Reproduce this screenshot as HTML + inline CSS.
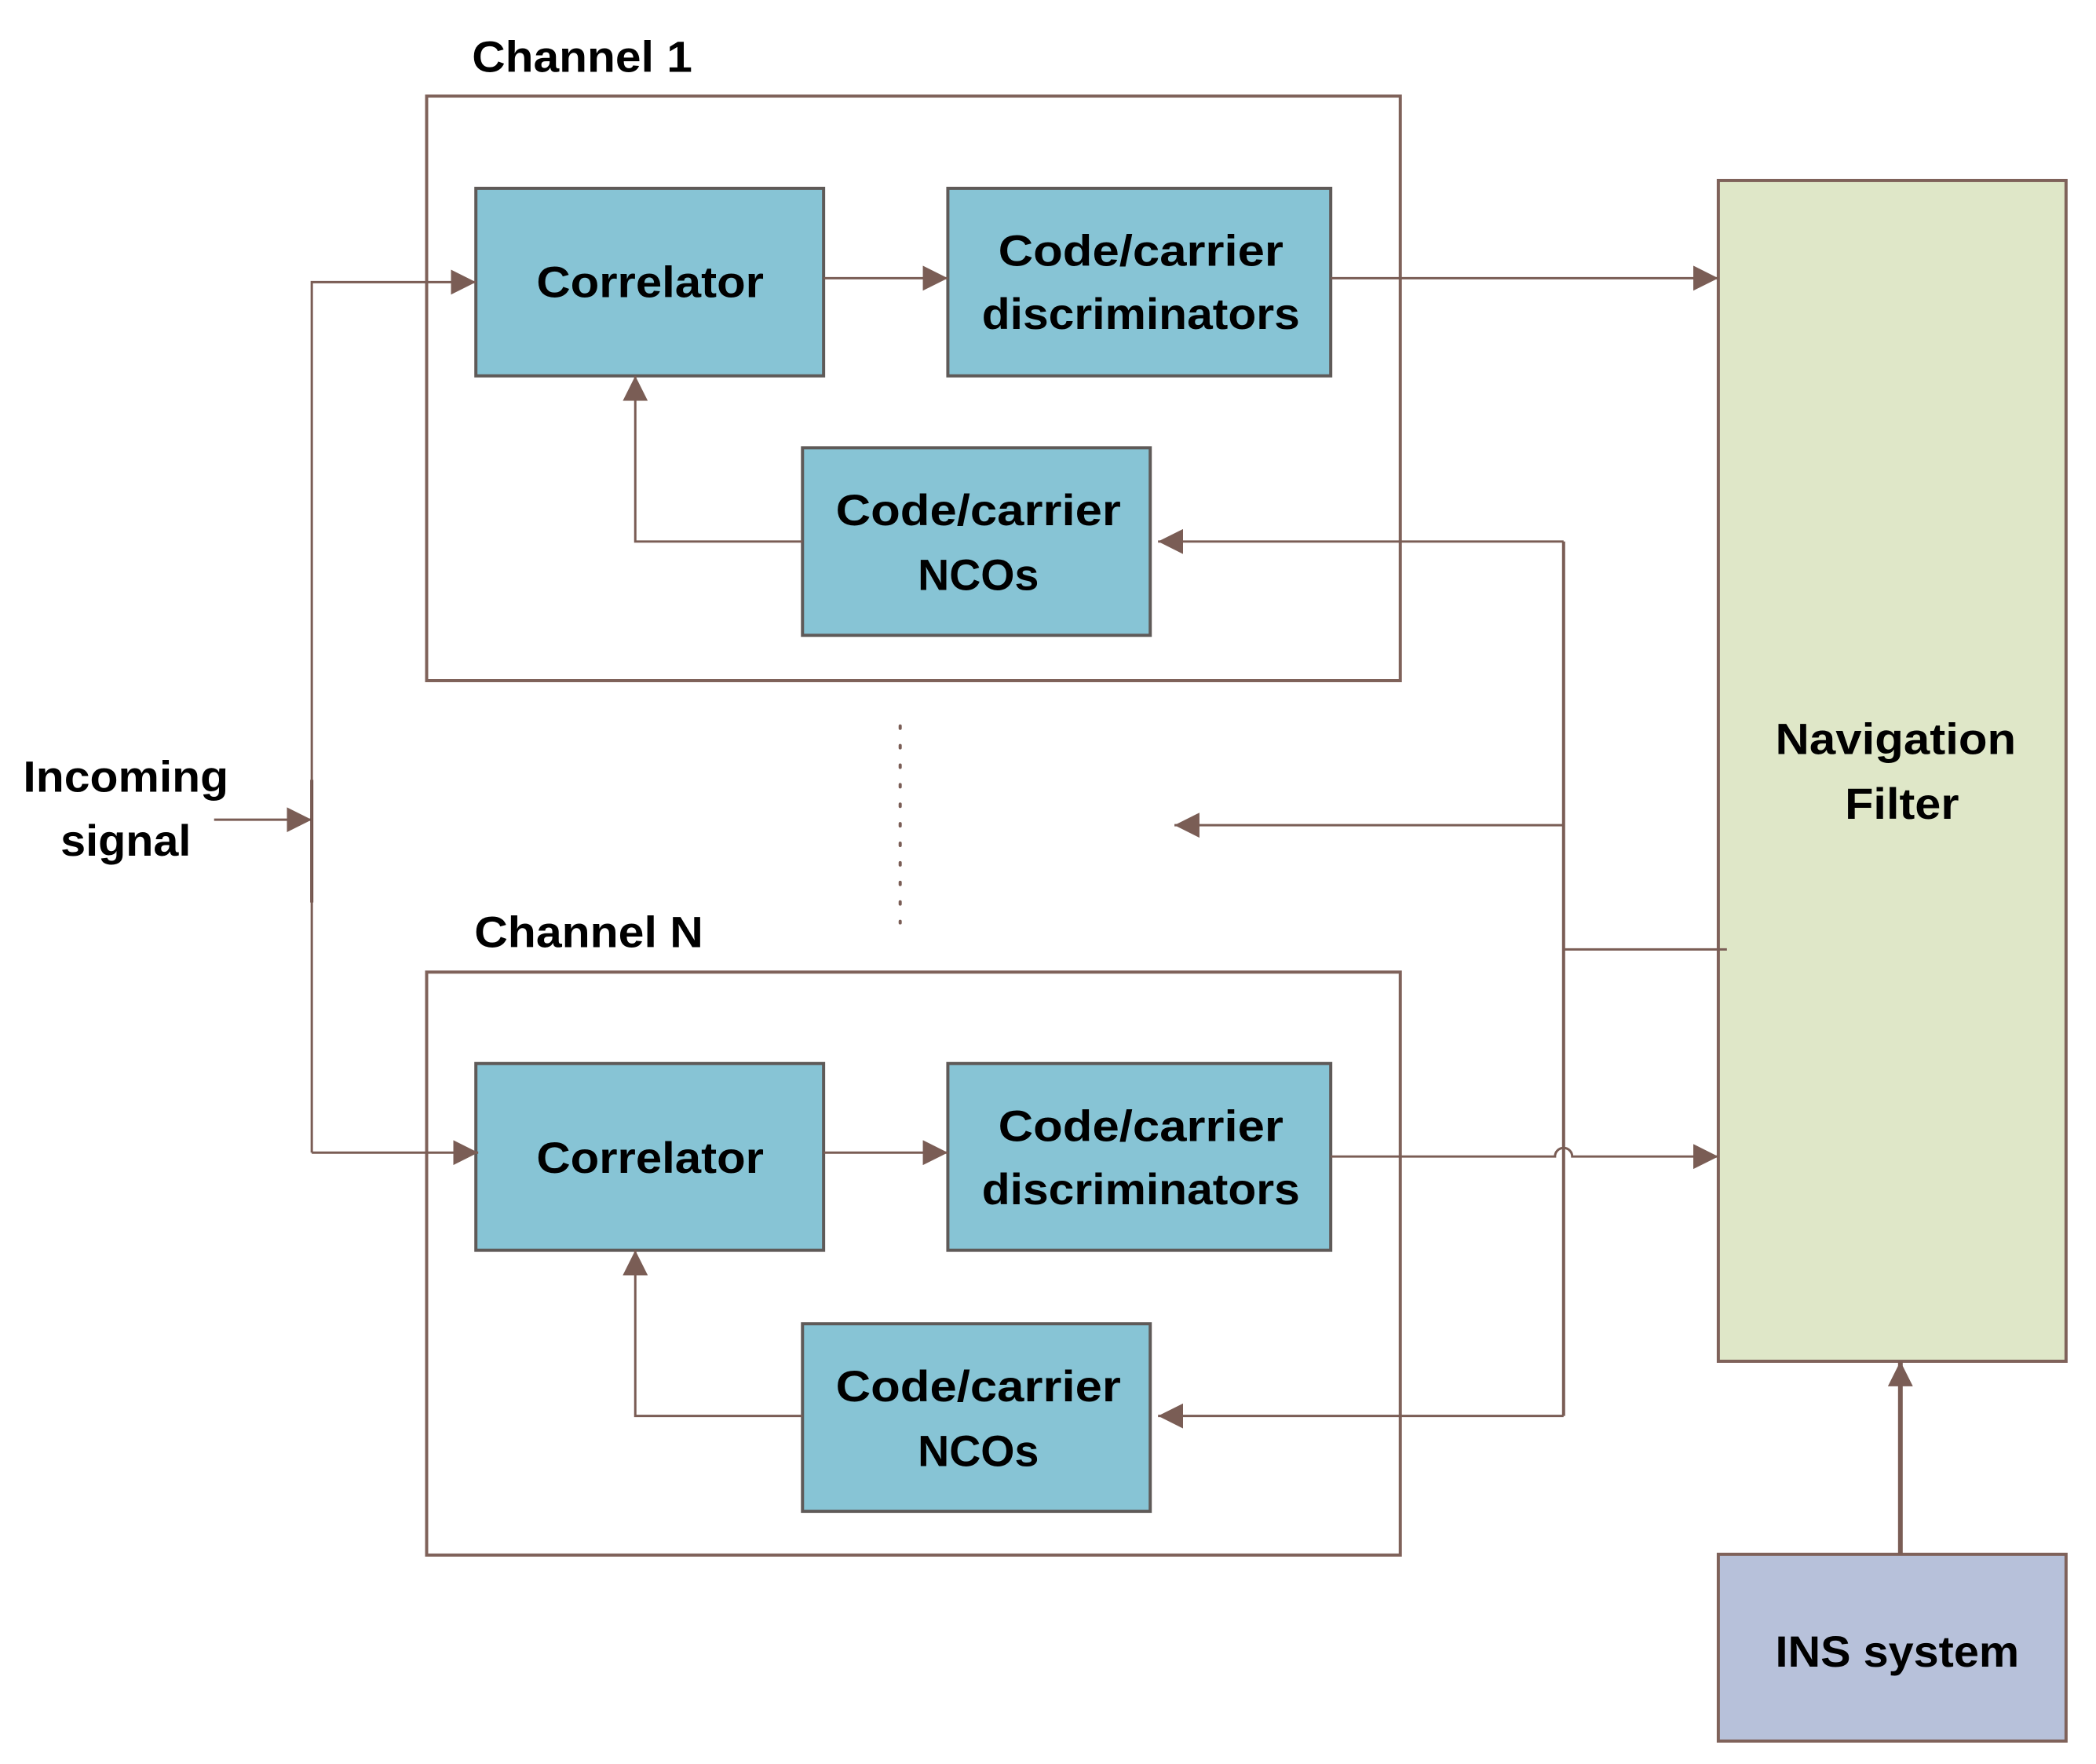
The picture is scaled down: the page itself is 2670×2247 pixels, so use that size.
<!DOCTYPE html>
<html><head><meta charset="utf-8"><style>html,body{margin:0;padding:0;background:#fff}svg{display:block}</style></head>
<body>
<svg width="2670" height="2247" viewBox="0 0 2670 2247" xmlns="http://www.w3.org/2000/svg" font-family="Liberation Sans, sans-serif" font-weight="bold">
<defs>
<marker id="b" viewBox="0 0 10 10" refX="10" refY="5" markerWidth="32" markerHeight="32" markerUnits="userSpaceOnUse" orient="auto"><path d="M0,0 L10,5 L0,10 z" fill="#7a5d55"/></marker>
</defs>
<g transform="scale(0.9954)">
<g fill="none" stroke="#7f625a" stroke-width="4">
<rect x="546" y="123" width="1246" height="748"/>
<rect x="546" y="1244" width="1246" height="746"/>
</g>
<g stroke="#5f5a58" stroke-width="4" fill="#87c4d5">
<rect x="609" y="241" width="445" height="240"/>
<rect x="1213" y="241" width="490" height="240"/>
<rect x="1027" y="573" width="445" height="240"/>
<rect x="609" y="1361" width="445" height="239"/>
<rect x="1213" y="1361" width="490" height="239"/>
<rect x="1027" y="1694" width="445" height="240"/>
</g>
<rect x="2199" y="231" width="445" height="1511" fill="#dfe7c8" stroke="#7f625a" stroke-width="4"/>
<rect x="2199" y="1989" width="445" height="239" fill="#b7c1da" stroke="#7f625a" stroke-width="4"/>
<g fill="none" stroke="#7a5d55" stroke-width="3">
<polyline points="274,1049 399,1049" marker-end="url(#b)"/>
<line x1="399" y1="998" x2="399" y2="1155" stroke="#5a3a33" stroke-width="4"/>
<polyline points="399,1475 399,361 609,361" marker-end="url(#b)"/>
<polyline points="399,1475 612,1475" marker-end="url(#b)"/>
<line x1="1054" y1="356" x2="1213" y2="356" marker-end="url(#b)"/>
<line x1="1054" y1="1475" x2="1213" y2="1475" marker-end="url(#b)"/>
<polyline points="1027,693 813,693 813,481" marker-end="url(#b)"/>
<polyline points="1027,1812 813,1812 813,1600" marker-end="url(#b)"/>
<line x1="1703" y1="356" x2="2199" y2="356" marker-end="url(#b)"/>
<path d="M1703,1480 L1990,1480 A11,11 0 0 1 2012,1480 L2199,1480" marker-end="url(#b)"/>
<polyline points="2001,693 1482,693" marker-end="url(#b)"/>
<line x1="2001" y1="693" x2="2001" y2="1812" stroke-width="4"/>
<line x1="2001" y1="1056" x2="1503" y2="1056" marker-end="url(#b)"/>
<line x1="2001" y1="1215" x2="2210" y2="1215"/>
<polyline points="2001,1812 1482,1812" marker-end="url(#b)"/>
<line x1="2432" y1="1989" x2="2432" y2="1742" stroke-width="6" marker-end="url(#b)"/>
<line x1="1152" y1="929" x2="1152" y2="1181" stroke-dasharray="3 22" stroke-width="4" stroke-linecap="round"/>
</g>
<g fill="#000" font-size="56">
<text x="604" y="92" textLength="282" lengthAdjust="spacingAndGlyphs">Channel 1</text>
<text x="607" y="1212" textLength="293" lengthAdjust="spacingAndGlyphs">Channel N</text>
<text x="161" y="1013" text-anchor="middle" textLength="263" lengthAdjust="spacingAndGlyphs">Incoming</text>
<text x="161" y="1095" text-anchor="middle" textLength="167" lengthAdjust="spacingAndGlyphs">signal</text>
<text x="832" y="380" text-anchor="middle" textLength="291" lengthAdjust="spacingAndGlyphs">Correlator</text>
<text x="832" y="1501" text-anchor="middle" textLength="291" lengthAdjust="spacingAndGlyphs">Correlator</text>
<text x="1460" y="340" text-anchor="middle" textLength="365" lengthAdjust="spacingAndGlyphs">Code/carrier</text>
<text x="1460" y="421" text-anchor="middle" textLength="407" lengthAdjust="spacingAndGlyphs">discriminators</text>
<text x="1460" y="1460" text-anchor="middle" textLength="365" lengthAdjust="spacingAndGlyphs">Code/carrier</text>
<text x="1460" y="1541" text-anchor="middle" textLength="407" lengthAdjust="spacingAndGlyphs">discriminators</text>
<text x="1252" y="672" text-anchor="middle" textLength="365" lengthAdjust="spacingAndGlyphs">Code/carrier</text>
<text x="1252" y="755" text-anchor="middle" textLength="155" lengthAdjust="spacingAndGlyphs">NCOs</text>
<text x="1252" y="1793" text-anchor="middle" textLength="365" lengthAdjust="spacingAndGlyphs">Code/carrier</text>
<text x="1252" y="1876" text-anchor="middle" textLength="155" lengthAdjust="spacingAndGlyphs">NCOs</text>
<text x="2426" y="965" text-anchor="middle" textLength="308" lengthAdjust="spacingAndGlyphs">Navigation</text>
<text x="2434" y="1048" text-anchor="middle" textLength="146" lengthAdjust="spacingAndGlyphs">Filter</text>
<text x="2428" y="2133" text-anchor="middle" textLength="312" lengthAdjust="spacingAndGlyphs">INS system</text>
</g>
</g>
</svg>
</body></html>
